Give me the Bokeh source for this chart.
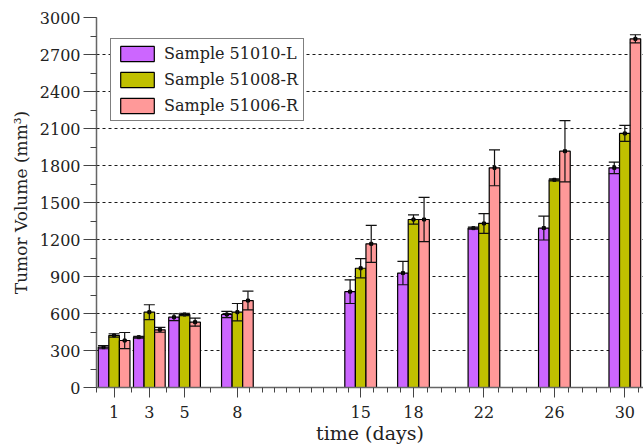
from bokeh.plotting import figure
from bokeh.models import (ColumnDataSource, Range1d, FixedTicker, SingleIntervalTicker,
                          Whisker, TeeHead, Legend, LegendItem)
from bokeh.transform import dodge
from bokeh.embed import file_html
from bokeh.resources import INLINE

days = [1, 3, 5, 8, 15, 18, 22, 26, 30]
minor_days = [0, 2, 4, 6.5, 8.7, 9.4, 10.1, 10.8, 11.5, 12.2, 12.9, 13.6, 14.3,
              15.75, 16.5, 17.25, 18.8, 19.6, 20.4, 21.2, 22.8, 23.6, 24.4, 25.2,
              26.8, 27.6, 28.4, 29.2, 30.8]

names = ["Sample 51010-L", "Sample 51008-R", "Sample 51006-R"]
s51010_mean = [327, 408, 570, 592, 777, 928, 1292, 1293, 1781]
s51010_err = [13, 7, 28, 25, 96, 95, 8, 97, 47]
s51008_mean = [422, 611, 592, 611, 967, 1362, 1330, 1684, 2060]
s51008_err = [14, 60, 10, 70, 78, 38, 80, 8, 65]
s51006_mean = [381, 468, 530, 705, 1165, 1362, 1781, 1916, 2827]
s51006_err = [65, 20, 33, 76, 150, 180, 145, 248, 33]

colors = ["#cc66ff", "#c0c000", "#ff9999"]
offsets = [-0.6, 0.0, 0.6]
FONT = "DejaVu Serif"

p = figure(frame_width=547, frame_height=370, output_backend="svg", toolbar_location=None,
           x_range=Range1d(0, 31.06), y_range=Range1d(0, 3000),
           min_border_left=96, min_border_top=17, min_border_right=0, min_border_bottom=56)
p.outline_line_color = None
p.background_fill_color = "white"

series = [(s51010_mean, s51010_err), (s51008_mean, s51008_err), (s51006_mean, s51006_err)]
items = []
for (m, e), c, off, nm in zip(series, colors, offsets, names):
    src = ColumnDataSource(dict(x=days, top=m,
                                upper=[a + b for a, b in zip(m, e)],
                                lower=[a - b for a, b in zip(m, e)]))
    r = p.vbar(x=dodge("x", off), top="top", bottom=0, width=0.6, source=src,
               fill_color=c, line_color="black", line_width=1.2)
    items.append(LegendItem(label=nm, renderers=[r]))
    w = Whisker(base=dodge("x", off), upper="upper", lower="lower", source=src,
                line_color="#111111", line_width=1.2, level="overlay",
                upper_head=TeeHead(size=11, line_color="#111111", line_width=1.2),
                lower_head=TeeHead(size=11, line_color="#111111", line_width=1.2))
    p.add_layout(w)
    p.scatter(x=dodge("x", off), y="top", source=src, marker="square", size=3,
              color="black", level="overlay")

legend = Legend(items=items, location=(14, 266), glyph_width=42, glyph_height=19,
                label_text_font=FONT, label_text_font_size="16px", label_text_color="#222222",
                padding=5, spacing=7, margin=0, border_line_color="black", border_line_width=1,
                label_standoff=6, background_fill_alpha=1, label_height=19)
p.add_layout(legend, "center")

# axes
p.xaxis.ticker = FixedTicker(ticks=days, minor_ticks=minor_days)
p.yaxis.ticker = SingleIntervalTicker(interval=300, num_minor_ticks=2)
for ax in (p.xaxis[0], p.yaxis[0]):
    ax.axis_line_color = "#666666"
    ax.axis_line_width = 1.5
    ax.major_tick_line_color = "#444444"
    ax.minor_tick_line_color = "#444444"
    ax.major_tick_in = 0
    ax.minor_tick_in = 0
    ax.major_label_text_font = FONT
    ax.major_label_text_font_size = "16px"
    ax.major_label_text_color = "#222222"
    ax.axis_label_text_font = FONT
    ax.axis_label_text_font_style = "normal"
    ax.axis_label_text_color = "#222222"

p.xaxis.major_tick_out = 10
p.xaxis.minor_tick_out = 5
p.xaxis.major_label_standoff = 8
p.xaxis.axis_label = "time (days)"
p.xaxis.axis_label_text_font_size = "19px"
p.xaxis.axis_label_standoff = 1

p.yaxis.major_tick_out = 13
p.yaxis.minor_tick_out = 6
p.yaxis.major_label_standoff = 3
p.yaxis.axis_label = "Tumor Volume (mm³)"
p.yaxis.axis_label_text_font_size = "17px"
p.yaxis.axis_label_standoff = 6

p.xgrid.grid_line_color = None
p.ygrid.grid_line_color = "black"
p.ygrid.grid_line_dash = "3 3"
p.ygrid.grid_line_width = 1
p.ygrid.grid_line_alpha = 0.9

open("out.html", "w").write(file_html(p, INLINE))
